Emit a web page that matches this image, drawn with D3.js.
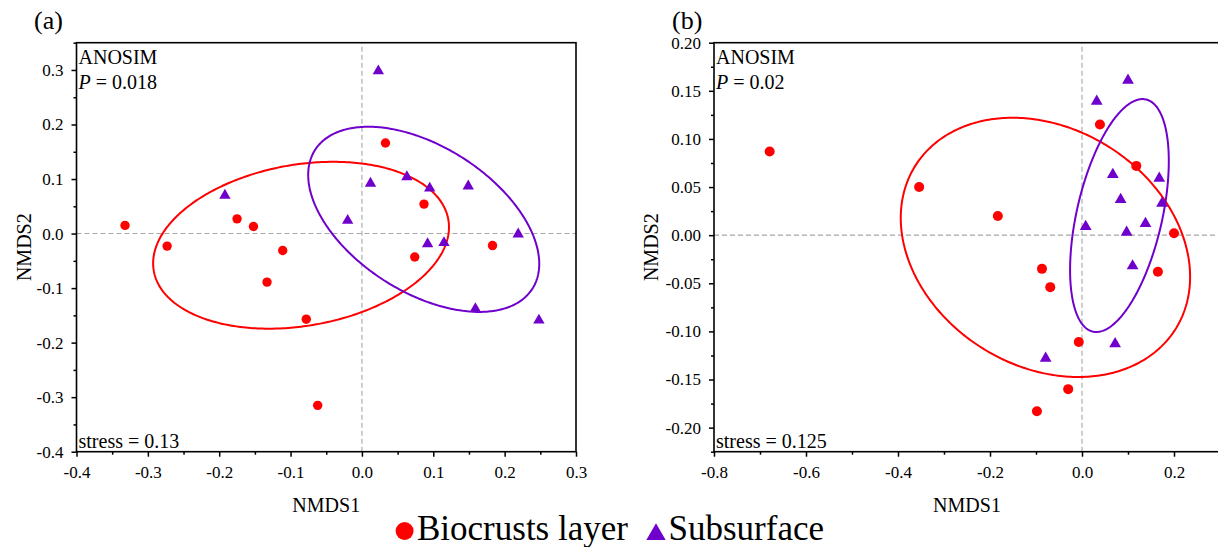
<!DOCTYPE html>
<html>
<head>
<meta charset="utf-8">
<script src="https://cdn.jsdelivr.net/npm/d3@7"></script>
<style>
  body { margin: 0; background: #fff; }
  svg { display: block; }
  text { font-family: "Liberation Serif", "Times New Roman", serif; fill: #000; }
</style>
</head>
<body>
<svg id="chart" width="1218" height="547"></svg>
<script>
// NMDS scores, panel (a)
const biocrustsA = [
  [-0.332, 0.015], [-0.273, -0.023], [-0.175, 0.027], [-0.152, 0.013],
  [-0.111, -0.031], [-0.133, -0.089], [-0.078, -0.157], [-0.062, -0.315],
  [0.033, 0.166], [0.087, 0.054], [0.074, -0.043], [0.183, -0.022]
];
const subsurfaceA = [
  [0.023, 0.298], [-0.192, 0.070], [-0.020, 0.024], [0.012, 0.092],
  [0.063, 0.104], [0.095, 0.083], [0.149, 0.087], [0.092, -0.019],
  [0.115, -0.017], [0.219, -0.001], [0.159, -0.138], [0.248, -0.159]
];

// NMDS scores, panel (b)
const biocrustsB = [
  [-0.679, 0.087], [-0.354, 0.050], [-0.183, 0.020], [0.039, 0.115],
  [0.118, 0.072], [0.200, 0.002], [-0.087, -0.035], [-0.069, -0.054],
  [0.165, -0.038], [-0.007, -0.111], [-0.030, -0.160], [-0.098, -0.183]
];
const subsurfaceB = [
  [0.100, 0.161], [0.032, 0.139], [0.067, 0.063], [0.168, 0.059],
  [0.084, 0.037], [0.174, 0.033], [0.008, 0.009], [0.138, 0.012],
  [0.097, 0.003], [0.110, -0.032], [0.072, -0.113], [-0.079, -0.128]
];

// Group ellipses: centre, half-extent along each axis, and the cosine of the
// phase shift between x and y (sets the tilt)
const ellipsesA = [
  { group: "Biocrusts layer", cx: -0.0853, cy: -0.0214, rx: 0.2073, ry: 0.1530, c: 0.217 },
  { group: "Subsurface",      cx: 0.0866,  cy: 0.0261,  rx: 0.1619, ry: 0.1698, c: -0.480 }
];
const ellipsesB = [
  { group: "Biocrusts layer", cx: -0.0795, cy: -0.0127, rx: 0.3145, ry: 0.1347, c: -0.227 },
  { group: "Subsurface",      cx: 0.0814,  cy: 0.0204,  rx: 0.1073, ry: 0.1210, c: 0.467 }
];

// Axis ticks
const xTicksA = [-0.4, -0.3, -0.2, -0.1, 0, 0.1, 0.2, 0.3];
const yTicksA = [-0.4, -0.3, -0.2, -0.1, 0, 0.1, 0.2, 0.3];
const xTicksB = [-0.8, -0.6, -0.4, -0.2, 0, 0.2];
const yTicksB = [-0.20, -0.15, -0.10, -0.05, 0, 0.05, 0.10, 0.15, 0.20];

const panelLabels = ["(a)", "(b)"];
const anosimP = ["0.018", "0.02"];
const stressValues = ["0.13", "0.125"];
const groups = ["Biocrusts layer", "Subsurface"];
const colors = { "Biocrusts layer": "#ff0000", "Subsurface": "#7000cc" };

const svg = d3.select("#chart");

const panels = [
  {
    label: panelLabels[0], p: anosimP[0], stress: stressValues[0],
    series: { "Biocrusts layer": biocrustsA, "Subsurface": subsurfaceA },
    ellipses: ellipsesA,
    x: d3.scaleLinear().domain([-0.4, 0.3]).range([76.5, 576]),
    y: d3.scaleLinear().domain([-0.4, 0.35]).range([451.7, 42.7]),
    xTicks: xTicksA, yTicks: yTicksA, xFmt: ".1f", yFmt: ".1f",
    labelX: 34, yTitleX: 31, circleR: 4.7, triSize: 56
  },
  {
    label: panelLabels[1], p: anosimP[1], stress: stressValues[1],
    series: { "Biocrusts layer": biocrustsB, "Subsurface": subsurfaceB },
    ellipses: ellipsesB,
    x: d3.scaleLinear().domain([-0.8, 0.3]).range([714, 1220]),
    y: d3.scaleLinear().domain([-0.225, 0.2]).range([451.7, 42.7]),
    xTicks: xTicksB, yTicks: yTicksB, xFmt: ".1f", yFmt: ".2f",
    labelX: 672, yTitleX: 658, circleR: 5, triSize: 60
  }
];

const fmt = spec => v => d3.format(spec)(v).replace("\u2212", "-");

function minorTicks(majors, domain) {
  const step = majors[1] - majors[0];
  const out = d3.pairs(majors).map(([a, b]) => (a + b) / 2);
  const lo = majors[0] - step / 2, hi = majors[majors.length - 1] + step / 2;
  if (lo >= domain[0] - 1e-9) out.unshift(lo);
  if (hi <= domain[1] + 1e-9) out.push(hi);
  return out;
}

panels.forEach((P, i) => {
  const g = svg.append("g");
  const [x0, x1] = P.x.range();
  const [y0, y1] = P.y.range();

  const clipId = "clip" + i;
  svg.append("clipPath").attr("id", clipId)
    .append("rect").attr("x", x0).attr("y", y1).attr("width", x1 - x0).attr("height", y0 - y1);

  const plot = g.append("g").attr("clip-path", `url(#${clipId})`);

  // zero reference lines
  plot.append("line")
    .attr("x1", x0).attr("x2", x1).attr("y1", P.y(0)).attr("y2", P.y(0))
    .attr("stroke", "#a6a6a6").attr("stroke-width", 1.1).attr("stroke-dasharray", "5,3");
  plot.append("line")
    .attr("y1", y0).attr("y2", y1).attr("x1", P.x(0)).attr("x2", P.x(0))
    .attr("stroke", "#a6a6a6").attr("stroke-width", 1.1).attr("stroke-dasharray", "5,3");

  // group ellipses
  const line = d3.line().x(d => P.x(d[0])).y(d => P.y(d[1])).curve(d3.curveLinearClosed);
  P.ellipses.forEach(e => {
    const phi = Math.acos(e.c);
    const pts = d3.range(0, 360, 1).map(a => {
      const t = a * Math.PI / 180;
      return [e.cx + e.rx * Math.cos(t), e.cy + e.ry * Math.cos(t - phi)];
    });
    plot.append("path").attr("d", line(pts))
      .attr("fill", "none").attr("stroke", colors[e.group]).attr("stroke-width", 2);
  });

  // sample points
  plot.selectAll("circle.pt").data(P.series["Biocrusts layer"]).join("circle")
    .attr("class", "pt")
    .attr("cx", d => P.x(d[0])).attr("cy", d => P.y(d[1]))
    .attr("r", P.circleR).attr("fill", colors["Biocrusts layer"]);
  const tri = d3.symbol().type(d3.symbolTriangle).size(P.triSize);
  plot.selectAll("path.tri").data(P.series["Subsurface"]).join("path")
    .attr("class", "tri")
    .attr("transform", d => `translate(${P.x(d[0])},${P.y(d[1])})`)
    .attr("d", tri).attr("fill", colors["Subsurface"]);

  // frame
  g.append("rect").attr("x", x0).attr("y", y1).attr("width", x1 - x0).attr("height", y0 - y1)
    .attr("fill", "none").attr("stroke", "#000").attr("stroke-width", 1.6);

  // axes
  const styleAxis = sel => {
    sel.select(".domain").remove();
    sel.selectAll("line").attr("stroke", "#000").attr("stroke-width", 1.5);
    sel.selectAll("text").attr("font-family", "Liberation Serif, Times New Roman, serif")
      .attr("font-size", 17).attr("fill", "#000");
  };
  g.append("g").attr("transform", `translate(0,${y0})`)
    .call(d3.axisBottom(P.x).tickValues(P.xTicks).tickFormat(fmt(P.xFmt)).tickSize(5).tickPadding(9))
    .call(styleAxis);
  g.append("g").attr("transform", `translate(0,${y0})`)
    .call(d3.axisBottom(P.x).tickValues(minorTicks(P.xTicks, P.x.domain())).tickFormat("").tickSize(3))
    .call(styleAxis);
  g.append("g").attr("transform", `translate(${x0},0)`)
    .call(d3.axisLeft(P.y).tickValues(P.yTicks).tickFormat(fmt(P.yFmt)).tickSize(5).tickPadding(8))
    .call(styleAxis);
  g.append("g").attr("transform", `translate(${x0},0)`)
    .call(d3.axisLeft(P.y).tickValues(minorTicks(P.yTicks, P.y.domain())).tickFormat("").tickSize(3))
    .call(styleAxis);

  // axis titles
  g.append("text").attr("x", (x0 + Math.min(x1, 1220)) / 2).attr("y", 511.5)
    .attr("text-anchor", "middle").attr("font-size", 20).text("NMDS1");
  g.append("text").attr("transform", `translate(${P.yTitleX},${(y0 + y1) / 2}) rotate(-90)`)
    .attr("text-anchor", "middle").attr("font-size", 20).text("NMDS2");

  // panel label
  g.append("text").attr("x", P.labelX).attr("y", 29).attr("font-size", 26).text(P.label);

  // statistics
  g.append("text").attr("x", x0 + 2).attr("y", 64).attr("font-size", 20).text("ANOSIM");
  const pt = g.append("text").attr("x", x0 + 2).attr("y", 89).attr("font-size", 20);
  pt.append("tspan").attr("font-style", "italic").text("P");
  pt.append("tspan").text(" = " + P.p);
  g.append("text").attr("x", x0 + 2).attr("y", 447.5).attr("font-size", 20)
    .text("stress = " + P.stress);
});

// legend
const legend = svg.append("g");
legend.append("circle").attr("cx", 404.6).attr("cy", 531).attr("r", 9)
  .attr("fill", colors[groups[0]]);
legend.append("text").attr("x", 417).attr("y", 540).attr("font-size", 35).text(groups[0]);
legend.append("path")
  .attr("transform", "translate(656,534.4)")
  .attr("d", d3.symbol().type(d3.symbolTriangle).size(163))
  .attr("fill", colors[groups[1]]);
legend.append("text").attr("x", 668.5).attr("y", 540).attr("font-size", 35).text(groups[1]);
</script>
</body>
</html>
